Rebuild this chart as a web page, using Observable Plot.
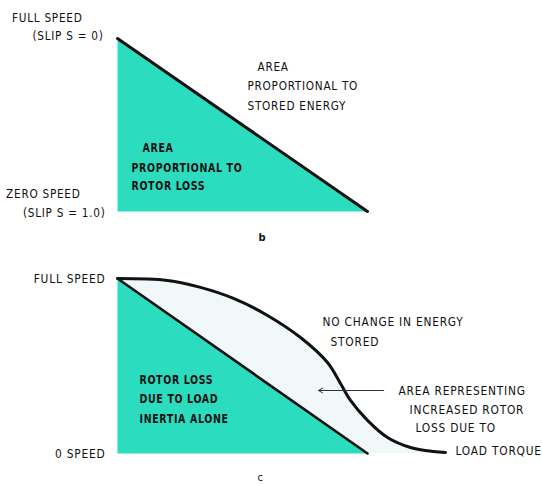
<!DOCTYPE html>
<html><head><meta charset="utf-8">
<script src="https://cdn.jsdelivr.net/npm/d3@7"></script>
<script src="https://cdn.jsdelivr.net/npm/@observablehq/plot@0.6"></script>
<style>
body{margin:0;background:#fff;}
#chart{width:542px;height:485px;overflow:hidden;background:#fff;}
#chart svg{display:block;}
</style></head><body><div id="chart"></div>
<script>
// ---- data (time as fraction of acceleration time, speed as fraction of full speed) ----
const triangleTime = [0, 0, 1];
const triangleSpeed = [1, 0, 0];
const diagonalTime = [0, 1];
const diagonalSpeed = [1, 0];
const curveTime = [0, 0.2, 0.332, 0.464, 0.6, 0.732, 0.84, 0.892, 0.932, 1.0, 1.08, 1.172, 1.264, 1.312];
const curveSpeed = [1, 0.989, 0.949, 0.886, 0.789, 0.663, 0.52, 0.4, 0.303, 0.189, 0.091, 0.034, 0.011, 0.006];
const arrowTime = [1.064, 0.804];
const arrowSpeed = [0.36];

// ---- text ----
const speedLabelsB = ["FULL SPEED", "(SLIP S = 0)", "ZERO SPEED", "(SLIP S = 1.0)"];
const storedLines = ["AREA", "PROPORTIONAL TO", "STORED ENERGY"];
const lossLines = ["AREA", "PROPORTIONAL TO", "ROTOR LOSS"];
const speedLabelsC = ["FULL SPEED", "0 SPEED"];
const noChangeLines = ["NO CHANGE IN ENERGY", "STORED"];
const increasedLines = ["AREA REPRESENTING", "INCREASED ROTOR", "LOSS DUE TO", "LOAD TORQUE"];
const inertiaLines = ["ROTOR LOSS", "DUE TO LOAD", "INERTIA ALONE"];
const panelNames = ["b", "c"];

const TEAL = "#2cdcbf";
const PALE = "#f0f8fa";
const FONT = "'Liberation Sans Narrow', 'DejaVu Sans Condensed', 'Roboto Condensed', sans-serif";

const rows = (ts, ss) => ts.map((t, i) => ({t, s: ss[i]}));
const triangle = rows(triangleTime, triangleSpeed);
const diagonal = rows(diagonalTime, diagonalSpeed);
const curve = rows(curveTime, curveSpeed);

// text styles: [fontSize, fontWeight, horizontal squeeze]
const NORMAL_B = [13, 500, 0.9];
const NORMAL_C = [12.5, 500, 0.95];
const BOLD = [13, "bold", 0.81];

const lab = (text, t, s, st, o = {}) =>
  Plot.text([text], {x: t, y: s, text: d => d, textAnchor: "start",
    fontSize: st[0], fontWeight: st[1], ariaDescription: "sx" + st[2],
    fill: "#111", ...o});

const common = {
  width: 542,
  marginLeft: 117,
  marginRight: 175,
  x: {domain: [0, 1], axis: null},
  y: {domain: [0, 1], axis: null},
  style: {fontFamily: FONT, background: "transparent", overflow: "visible", letterSpacing: "0.8px"}
};

const panelB = Plot.plot({
  ...common,
  height: 250,
  marginTop: 38,
  marginBottom: 39,
  marks: [
    Plot.line(triangle, {x: "t", y: "s", fill: TEAL, stroke: "none"}),
    Plot.line(diagonal, {x: "t", y: "s", stroke: "#111", strokeWidth: 3}),
    lab(speedLabelsB[0], -0.14, 1.121, NORMAL_B, {textAnchor: "end"}),
    lab(speedLabelsB[1], -0.056, 1.017, NORMAL_B, {textAnchor: "end"}),
    lab(speedLabelsB[2], -0.148, 0.104, NORMAL_B, {textAnchor: "end"}),
    lab(speedLabelsB[3], -0.048, -0.006, NORMAL_B, {textAnchor: "end"}),
    lab(storedLines[0], 0.56, 0.838, NORMAL_B),
    lab(storedLines[1], 0.52, 0.728, NORMAL_B),
    lab(storedLines[2], 0.52, 0.613, NORMAL_B),
    lab(lossLines[0], 0.1, 0.37, BOLD),
    lab(lossLines[1], 0.056, 0.254, BOLD),
    lab(lossLines[2], 0.056, 0.15, BOLD),
    lab(panelNames[0], 0.58, -0.15, [11, "bold", 1], {textAnchor: "middle"})
  ]
});

const panelC = Plot.plot({
  ...common,
  height: 235,
  marginTop: 28,
  marginBottom: 32,
  marks: [
    Plot.areaY(curve, {x: "t", y: "s", fill: PALE, curve: "catmull-rom"}),
    Plot.line(triangle, {x: "t", y: "s", fill: TEAL, stroke: "none"}),
    Plot.line(diagonal, {x: "t", y: "s", stroke: "#111", strokeWidth: 2.6}),
    Plot.line(curve, {x: "t", y: "s", stroke: "#111", strokeWidth: 3, curve: "catmull-rom"}),
    Plot.arrow(arrowSpeed, {x1: arrowTime[0], x2: arrowTime[1], y1: d => d, y2: d => d,
      stroke: "#333", strokeWidth: 1, headLength: 7, bend: false}),
    lab(speedLabelsC[0], -0.048, 1.0, NORMAL_C, {textAnchor: "end"}),
    lab(speedLabelsC[1], -0.048, 0.0, NORMAL_C, {textAnchor: "end"}),
    lab(noChangeLines[0], 0.82, 0.749, NORMAL_C),
    lab(noChangeLines[1], 0.852, 0.64, NORMAL_C),
    lab(increasedLines[0], 1.124, 0.36, NORMAL_C),
    lab(increasedLines[1], 1.168, 0.246, NORMAL_C),
    lab(increasedLines[2], 1.192, 0.143, NORMAL_C),
    lab(increasedLines[3], 1.352, 0.017, NORMAL_C),
    lab(inertiaLines[0], 0.088, 0.423, BOLD),
    lab(inertiaLines[1], 0.088, 0.314, BOLD),
    lab(inertiaLines[2], 0.088, 0.2, BOLD),
    lab(panelNames[1], 0.572, -0.135, [11, 500, 1], {textAnchor: "middle"})
  ]
});

// horizontal squeeze of lettering (style only, positions untouched)
function squeeze(svg) {
  d3.select(svg).selectAll('g[aria-description^="sx"]').each(function () {
    const k = +this.getAttribute("aria-description").slice(2);
    if (!(k > 0) || k === 1) return;
    d3.select(this).selectAll("text").each(function () {
      let tr = this.getAttribute("transform") || "";
      if (!/translate/.test(tr)) {
        const x = +(this.getAttribute("x") || 0), y = +(this.getAttribute("y") || 0);
        this.removeAttribute("x"); this.removeAttribute("y");
        tr = `translate(${x},${y}) ` + tr;
      }
      this.setAttribute("transform", tr + ` scale(${k},1)`);
    });
  });
  return svg;
}

const root = document.getElementById("chart");
root.append(squeeze(panelB), squeeze(panelC));
</script></body></html>
